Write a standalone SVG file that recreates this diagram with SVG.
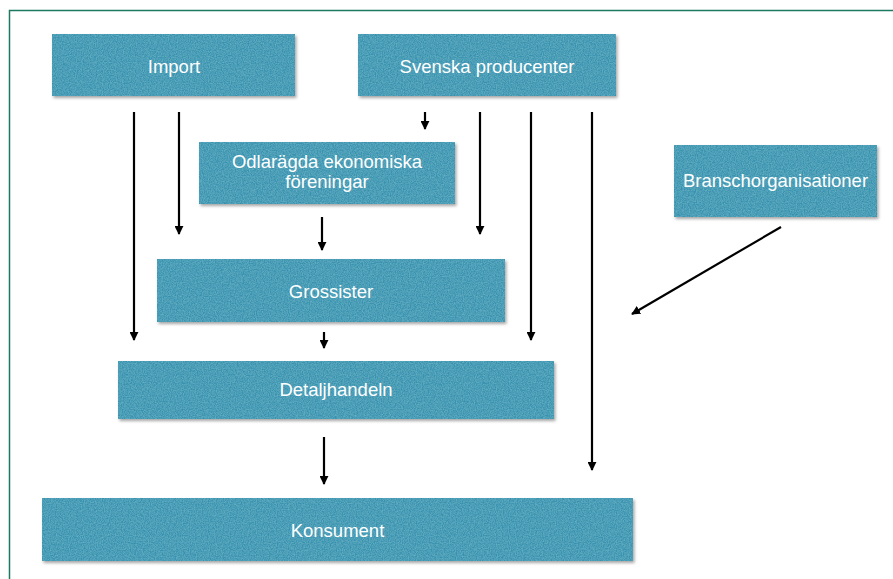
<svg xmlns="http://www.w3.org/2000/svg" width="893" height="579" viewBox="0 0 893 579">
  <defs>
    <filter id="tex" x="-5%" y="-10%" width="115%" height="135%">
      <feTurbulence type="fractalNoise" baseFrequency="0.85" numOctaves="2" seed="4" result="noise"/>
      <feColorMatrix in="noise" type="matrix" values="0 0 0 0 0.14  0 0 0 0 0.45  0 0 0 0 0.56  0 0 0 -1.6 1.15" result="specks"/>
      <feComposite in="specks" in2="SourceGraphic" operator="in" result="clipped"/>
      <feDropShadow in="SourceGraphic" dx="1.5" dy="2" stdDeviation="1.5" flood-color="#000" flood-opacity="0.35" result="shadowed"/>
      <feMerge>
        <feMergeNode in="shadowed"/>
        <feMergeNode in="clipped"/>
      </feMerge>
    </filter>
    <marker id="arr" viewBox="0 0 10 10" refX="9" refY="5" markerWidth="9" markerHeight="9" markerUnits="userSpaceOnUse" orient="auto">
      <path d="M0,0 L10,5 L0,10 z" fill="#000"/>
    </marker>
    <style>
      .box { fill: #3792af; filter: url(#tex); }
      .lbl { font-family: "Liberation Sans", Arial, sans-serif; font-size: 18.5px; fill: #ffffff; text-anchor: middle; }
      .con line { stroke: #000; stroke-width: 2.2; fill: none; marker-end: url(#arr); }
    </style>
  </defs>
  <rect x="0" y="0" width="893" height="579" fill="#ffffff"/>
  <rect x="9.5" y="10.5" width="900" height="600" fill="none" stroke="#1d7a62" stroke-width="1.5"/>

  <g id="import">
    <rect class="box" x="52" y="34" width="243" height="62"/>
    <text class="lbl" x="174" y="73">Import</text>
  </g>
  <g id="svenska-producenter">
    <rect class="box" x="358" y="34" width="258" height="62"/>
    <text class="lbl" x="487" y="73">Svenska producenter</text>
  </g>
  <g id="odlaragda">
    <rect class="box" x="199" y="142" width="256" height="62"/>
    <text class="lbl" x="327" y="168">Odlarägda ekonomiska</text>
    <text class="lbl" x="327" y="188">föreningar</text>
  </g>
  <g id="branschorganisationer">
    <rect class="box" x="674" y="145" width="203" height="72"/>
    <text class="lbl" x="775.5" y="187">Branschorganisationer</text>
  </g>
  <g id="grossister">
    <rect class="box" x="157" y="259" width="348" height="63"/>
    <text class="lbl" x="331" y="298">Grossister</text>
  </g>
  <g id="detaljhandeln">
    <rect class="box" x="118" y="361" width="436" height="58"/>
    <text class="lbl" x="336" y="396">Detaljhandeln</text>
  </g>
  <g id="konsument">
    <rect class="box" x="42" y="498" width="591" height="63"/>
    <text class="lbl" x="337.5" y="537">Konsument</text>
  </g>

  <g id="connectors" class="con">
    <line x1="134" y1="112" x2="134" y2="340"/>
    <line x1="179" y1="112" x2="179" y2="234"/>
    <line x1="425" y1="112" x2="425" y2="129"/>
    <line x1="322" y1="217" x2="322" y2="250"/>
    <line x1="480" y1="112" x2="480" y2="234"/>
    <line x1="531" y1="112" x2="531" y2="340"/>
    <line x1="592" y1="112" x2="592" y2="470"/>
    <line x1="324" y1="332" x2="324" y2="348"/>
    <line x1="324" y1="437" x2="324" y2="484"/>
    <line x1="781" y1="227" x2="632" y2="314"/>
  </g>
</svg>
